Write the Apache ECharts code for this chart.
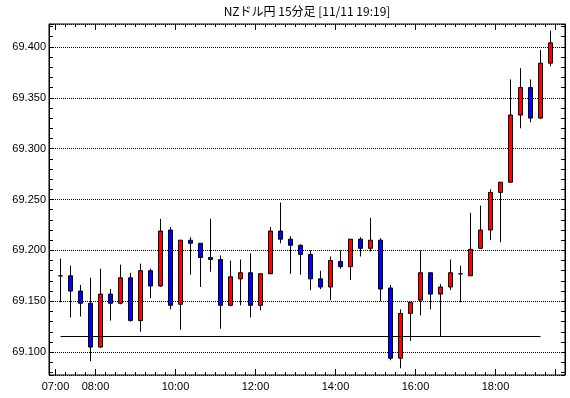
<!DOCTYPE html>
<html>
<head>
<meta charset="utf-8">
<script src="https://cdn.jsdelivr.net/npm/echarts@6/dist/echarts.min.js"></script>
<style>
    html, body {margin: 0; padding: 0; background: #fff;}
    #chart {width: 570px; height: 398px;}
</style>
</head>
<body>
<div id="chart"></div>
<script>
var times = ['07:00', '07:15', '07:30', '07:45', '08:00', '08:15', '08:30', '08:45', '09:00', '09:15',
    '09:30', '09:45', '10:00', '10:15', '10:30', '10:45', '11:00', '11:15', '11:30', '11:45',
    '12:00', '12:15', '12:30', '12:45', '13:00', '13:15', '13:30', '13:45', '14:00', '14:15',
    '14:30', '14:45', '15:00', '15:15', '15:30', '15:45', '16:00', '16:15', '16:30', '16:45',
    '17:00', '17:15', '17:30', '17:45', '18:00', '18:15', '18:30', '18:45', '19:00', '19:15'];
var labelTimes = ['07:00', '08:00', '10:00', '12:00', '14:00', '16:00', '18:00'];

var openPrices = [69.175, 69.175, 69.160, 69.148, 69.105, 69.157, 69.148, 69.173, 69.131, 69.180,
    69.165, 69.220, 69.147, 69.210, 69.207, 69.193, 69.191, 69.146, 69.172, 69.178,
    69.146, 69.177, 69.219, 69.211, 69.205, 69.196, 69.172, 69.164, 69.189, 69.184,
    69.211, 69.202, 69.210, 69.163, 69.094, 69.138, 69.151, 69.178, 69.157, 69.164,
    69.177, 69.175, 69.202, 69.220, 69.257, 69.267, 69.333, 69.360, 69.330, 69.384];
var closePrices = [69.175, 69.160, 69.148, 69.105, 69.157, 69.148, 69.173, 69.131, 69.180, 69.165,
    69.219, 69.146, 69.210, 69.207, 69.193, 69.191, 69.146, 69.174, 69.178, 69.146,
    69.177, 69.219, 69.211, 69.205, 69.196, 69.172, 69.164, 69.190, 69.184, 69.211,
    69.202, 69.210, 69.162, 69.094, 69.138, 69.149, 69.178, 69.157, 69.164, 69.178,
    69.177, 69.201, 69.220, 69.257, 69.267, 69.333, 69.360, 69.330, 69.384, 69.404];
var lowPrices = [69.149, 69.134, 69.135, 69.091, 69.104, 69.131, 69.147, 69.130, 69.120, 69.153,
    69.164, 69.142, 69.122, 69.176, 69.164, 69.179, 69.123, 69.145, 69.146, 69.134,
    69.141, 69.177, 69.207, 69.177, 69.176, 69.161, 69.162, 69.151, 69.182, 69.171,
    69.194, 69.199, 69.150, 69.092, 69.084, 69.111, 69.136, 69.142, 69.115, 69.161,
    69.149, 69.175, 69.202, 69.210, 69.208, 69.267, 69.320, 69.326, 69.329, 69.381];
var highPrices = [69.192, 69.185, 69.166, 69.173, 69.182, 69.162, 69.186, 69.178, 69.187, 69.182,
    69.231, 69.223, 69.210, 69.213, 69.207, 69.231, 69.195, 69.190, 69.191, 69.197,
    69.177, 69.223, 69.247, 69.214, 69.206, 69.200, 69.180, 69.194, 69.200, 69.211,
    69.213, 69.232, 69.212, 69.166, 69.142, 69.149, 69.200, 69.178, 69.167, 69.191,
    69.185, 69.237, 69.244, 69.260, 69.267, 69.368, 69.379, 69.368, 69.397, 69.416];
var refLevel = 69.116;

var yMin = 69.0775;
var yMax = 69.4225;

var candles = [];
for (var i = 0; i < times.length; i++) {
    candles.push([openPrices[i], closePrices[i], lowPrices[i], highPrices[i]]);
}

function isLabelTime(index, value) {
    return labelTimes.indexOf(times[index]) >= 0;
}

var font = 'Liberation Sans';
var myChart = echarts.init(document.getElementById('chart'), null, {renderer: 'canvas'});
var option = {
    animation: false,
    backgroundColor: '#fff',
    title: {
        text: 'NZドル円 15分足 [11/11 19:19]',
        left: 307,
        top: 5,
        padding: 0,
        textAlign: 'center',
        textStyle: {
            fontFamily: 'Noto Sans CJK JP',
            fontSize: 12,
            fontWeight: 'normal',
            color: '#000'
        }
    },
    grid: [
        // frame, price labels and grid lines
        {left: 49, right: 5, top: 24, bottom: 23, show: true, borderColor: '#000', borderWidth: 1, backgroundColor: 'transparent'},
        // candles
        {left: 55.5, width: 500, top: 24, bottom: 23}
    ],
    xAxis: [
        {gridIndex: 0, type: 'value', show: false, min: 0, max: 1},
        {
            gridIndex: 1, type: 'category', data: times, position: 'bottom',
            axisLine: {show: false},
            axisTick: {show: true, inside: true, length: 3, interval: 0, lineStyle: {color: '#000'}},
            axisLabel: {
                interval: isLabelTime, margin: 6, padding: [0, 10, 0, 0],
                color: '#000', fontFamily: font, fontSize: 11
            },
            splitLine: {show: false}
        },
        {
            gridIndex: 1, type: 'category', data: times, position: 'bottom',
            axisLine: {show: false},
            axisTick: {show: true, inside: true, length: 6, interval: isLabelTime, lineStyle: {color: '#000'}},
            axisLabel: {show: false},
            splitLine: {show: false}
        },
        {
            gridIndex: 1, type: 'category', data: times, position: 'top',
            axisLine: {show: false},
            axisTick: {show: true, inside: true, length: 3, interval: 0, lineStyle: {color: '#000'}},
            axisLabel: {show: false},
            splitLine: {show: false}
        },
        {
            gridIndex: 1, type: 'category', data: times, position: 'top',
            axisLine: {show: false},
            axisTick: {show: true, inside: true, length: 6, interval: isLabelTime, lineStyle: {color: '#000'}},
            axisLabel: {show: false},
            splitLine: {show: false}
        }
    ],
    yAxis: [
        {
            gridIndex: 0, type: 'value', position: 'left', min: yMin, max: yMax, splitNumber: 7,
            axisLine: {show: true, lineStyle: {color: '#000'}},
            axisTick: {show: true, inside: true, length: 4, lineStyle: {color: '#000'}},
            minorTick: {show: true, splitNumber: 5, length: 4, lineStyle: {color: '#000'}},
            axisLabel: {
                margin: 3, color: '#000', fontFamily: font, fontSize: 11,
                showMinLabel: false, showMaxLabel: false,
                formatter: function (v) { return v.toFixed(3); }
            },
            splitLine: {show: true, lineStyle: {color: '#000', type: [1, 1], width: 1}}
        },
        {
            gridIndex: 0, type: 'value', position: 'right', min: yMin, max: yMax, splitNumber: 7,
            axisLine: {show: true, lineStyle: {color: '#000'}},
            axisTick: {show: true, inside: true, length: 4, lineStyle: {color: '#000'}},
            minorTick: {show: true, splitNumber: 5, length: 4, lineStyle: {color: '#000'}},
            axisLabel: {show: false},
            splitLine: {show: false}
        },
        {gridIndex: 1, type: 'value', show: false, min: yMin, max: yMax, splitLine: {show: false}}
    ],
    series: [{
        name: 'NZドル円',
        type: 'candlestick',
        xAxisIndex: 1,
        yAxisIndex: 2,
        barWidth: 5,
        data: candles,
        itemStyle: {
            color: '#ff0000',
            color0: '#0000ff',
            borderColor: '#000',
            borderColor0: '#000',
            borderWidth: 1
        },
        markLine: {
            silent: true,
            symbol: 'none',
            label: {show: false},
            lineStyle: {color: '#000', type: 'solid', width: 1},
            data: [[
                {coord: [0, refLevel]},
                {coord: [times.length - 2, refLevel]}
            ]]
        }
    }]
};
myChart.setOption(option, true);
</script>
</body>
</html>
